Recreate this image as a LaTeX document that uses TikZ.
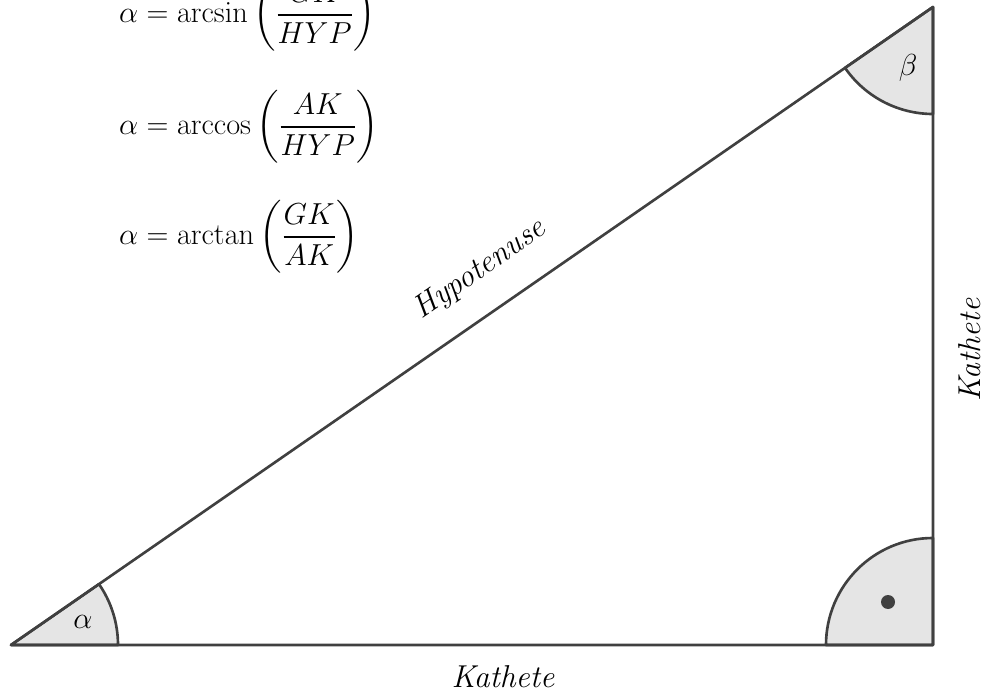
\documentclass[tikz,border=0pt]{standalone}
\usepackage{amsmath}
\begin{document}
\begin{tikzpicture}[x=0.02cm,y=0.02cm,line join=round,
    edge/.style={line width=1.5pt,black!75},
    wedge/.style={line width=1.5pt,black!75,fill=gray!20},
    lbl/.style={font=\fontsize{18}{22}\selectfont\itshape},
    eq/.style={anchor=west,font=\fontsize{18}{22}\selectfont},
    dot/.style={circle,fill=black!75,inner sep=0pt,minimum size=0.28cm}]
  \useasboundingbox (0,0) rectangle (991,694);
  \coordinate (A) at (11,49);
  \coordinate (B) at (933,49);
  \coordinate (C) at (933,687);

  % angle wedges
  \draw[wedge] (A) -- ++(107,0) arc[start angle=0,end angle=34.68,radius=107] -- cycle;
  \draw[wedge] (B) -- ++(-107,0) arc[start angle=180,end angle=90,radius=107] -- cycle;
  \draw[wedge] (C) -- ++(0,-107) arc[start angle=270,end angle=214.68,radius=107] -- cycle;
  \draw[edge] (A) -- (B) -- (C) -- cycle;
  \node[dot] (rdot) at (888,92) {};

  \node[lbl] (alpha) at (83,72) {$\alpha$};
  \node[lbl] (beta) at (908,626) {$\beta$};
  \node[lbl,rotate=34.68] (hyp) at (480,424) {Hypotenuse};
  \node[lbl] (kbot) at (503,17) {Kathete};
  \node[lbl,rotate=90] (kright) at (970,344) {Kathete};

  % formulas
  \node[eq] (fsin) at (113,679) {$\alpha = \arcsin\left(\dfrac{GK}{HYP}\right)$};
  \node[eq] (fcos) at (113,567) {$\alpha = \arccos\left(\dfrac{AK}{HYP}\right)$};
  \node[eq] (ftan) at (113,457) {$\alpha = \arctan\left(\dfrac{GK}{AK}\right)$};
\end{tikzpicture}
\end{document}
